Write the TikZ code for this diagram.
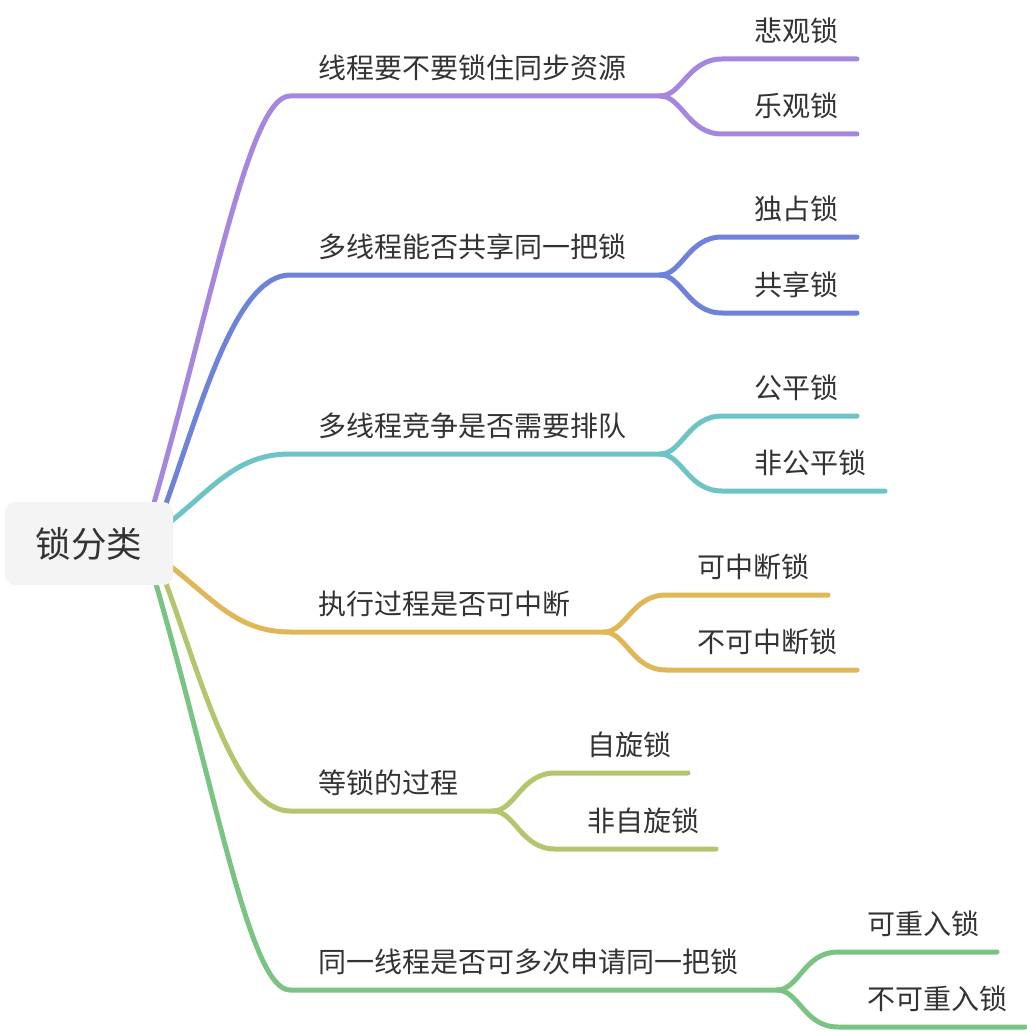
\documentclass[tikz,border=0pt]{standalone}
\usepackage{fontspec}
\setmainfont{Noto Sans CJK SC}
\usetikzlibrary{positioning, backgrounds}
\usepackage{xcolor}

\definecolor{rootfill}{HTML}{F4F4F4}
\definecolor{textgray}{HTML}{333333}
\definecolor{purplebr}{HTML}{A587E0}
\definecolor{bluebr}{HTML}{6F82DA}
\definecolor{tealbr}{HTML}{6EC4C4}
\definecolor{goldbr}{HTML}{E0B657}
\definecolor{olivebr}{HTML}{B3C66E}
\definecolor{greenbr}{HTML}{7AC483}

\begin{document}
\begin{tikzpicture}[
x=1pt, y=-1pt,
root/.style={fill=rootfill,
rounded corners=10pt,
minimum width=168pt,
minimum height=83pt,
inner sep=0pt,
text=textgray,
font=\fontsize{35.5}{42}\selectfont},
topic/.style={inner sep=0pt, text=textgray, font=\fontsize{28}{33}\selectfont},
branch/.style={line width=5pt, line cap=round} ]

\useasboundingbox (0,0) rectangle (1026,1032);

\node[root] (root) at (89,543.5) {锁分类};

% 线程要不要锁住同步资源
\coordinate (t1) at (290,96);
\coordinate (k1) at (660,96);
\coordinate (s1a) at (722,59);
\coordinate (e1a) at (857,59);
\coordinate (s1b) at (722,134);
\coordinate (e1b) at (857,134);
\node[topic, above right=15pt and 28pt of t1] (n1) {线程要不要锁住同步资源};
\node[topic, above right=15pt and 32pt of s1a] (n1a) {悲观锁};
\node[topic, above right=15pt and 32pt of s1b] (n1b) {乐观锁};

% 多线程能否共享同一把锁
\coordinate (t2) at (290,275);
\coordinate (k2) at (660,275);
\coordinate (s2a) at (722,237);
\coordinate (e2a) at (857,237);
\coordinate (s2b) at (722,313);
\coordinate (e2b) at (857,313);
\node[topic, above right=15pt and 28pt of t2] (n2) {多线程能否共享同一把锁};
\node[topic, above right=15pt and 32pt of s2a] (n2a) {独占锁};
\node[topic, above right=15pt and 32pt of s2b] (n2b) {共享锁};

% 多线程竞争是否需要排队
\coordinate (t3) at (290,454);
\coordinate (k3) at (660,454);
\coordinate (s3a) at (722,416);
\coordinate (e3a) at (857,416);
\coordinate (s3b) at (722,491);
\coordinate (e3b) at (885,491);
\node[topic, above right=15pt and 28pt of t3] (n3) {多线程竞争是否需要排队};
\node[topic, above right=15pt and 32pt of s3a] (n3a) {公平锁};
\node[topic, above right=15pt and 32pt of s3b] (n3b) {非公平锁};

% 执行过程是否可中断
\coordinate (t4) at (290,632);
\coordinate (k4) at (604,632);
\coordinate (s4a) at (666,595);
\coordinate (e4a) at (828,595);
\coordinate (s4b) at (666,670);
\coordinate (e4b) at (857,670);
\node[topic, above right=15pt and 28pt of t4] (n4) {执行过程是否可中断};
\node[topic, above right=15pt and 31pt of s4a] (n4a) {可中断锁};
\node[topic, above right=15pt and 31pt of s4b] (n4b) {不可中断锁};

% 等锁的过程
\coordinate (t5) at (290,811);
\coordinate (k5) at (493,811);
\coordinate (s5a) at (555,773);
\coordinate (e5a) at (688,773);
\coordinate (s5b) at (555,849);
\coordinate (e5b) at (716,849);
\node[topic, above right=15pt and 28pt of t5] (n5) {等锁的过程};
\node[topic, above right=15pt and 32pt of s5a] (n5a) {自旋锁};
\node[topic, above right=15pt and 32pt of s5b] (n5b) {非自旋锁};

% 同一线程是否可多次申请同一把锁
\coordinate (t6) at (290,990);
\coordinate (k6) at (777,990);
\coordinate (s6a) at (838,952);
\coordinate (e6a) at (997,952);
\coordinate (s6b) at (838,1027);
\coordinate (e6b) at (1025,1027);
\node[topic, above right=15pt and 28pt of t6] (n6) {同一线程是否可多次申请同一把锁};
\node[topic, above right=15pt and 29pt of s6a] (n6a) {可重入锁};
\node[topic, above right=15pt and 29pt of s6b] (n6b) {不可重入锁};

\begin{scope}[on background layer]
\draw[branch, purplebr] ([xshift=-20pt,yshift=-4pt]root.north east) .. controls (215,290) and (250,96) .. (t1) -- (k1);
\draw[branch, purplebr] (k1) .. controls +(22,0) and +(-34,0) .. (s1a) -- (e1a);
\draw[branch, purplebr] (k1) .. controls +(22,0) and +(-34,0) .. (s1b) -- (e1b);

\draw[branch, bluebr] ([xshift=-8pt,yshift=-4pt]root.north east) .. controls (200,410) and (235,275) .. (t2) -- (k2);
\draw[branch, bluebr] (k2) .. controls +(22,0) and +(-34,0) .. (s2a) -- (e2a);
\draw[branch, bluebr] (k2) .. controls +(22,0) and +(-34,0) .. (s2b) -- (e2b);

\draw[branch, tealbr] ([xshift=-4pt,yshift=-21pt]root.north east) .. controls (213,488) and (237,454) .. (t3) -- (k3);
\draw[branch, tealbr] (k3) .. controls +(22,0) and +(-34,0) .. (s3a) -- (e3a);
\draw[branch, tealbr] (k3) .. controls +(22,0) and +(-34,0) .. (s3b) -- (e3b);

\draw[branch, goldbr] ([xshift=-4pt,yshift=20pt]root.south east) .. controls (213,599) and (237,632) .. (t4) -- (k4);
\draw[branch, goldbr] (k4) .. controls +(22,0) and +(-34,0) .. (s4a) -- (e4a);
\draw[branch, goldbr] (k4) .. controls +(22,0) and +(-34,0) .. (s4b) -- (e4b);

\draw[branch, olivebr] ([xshift=-8pt,yshift=4pt]root.south east) .. controls (200,675) and (235,811) .. (t5) -- (k5);
\draw[branch, olivebr] (k5) .. controls +(22,0) and +(-34,0) .. (s5a) -- (e5a);
\draw[branch, olivebr] (k5) .. controls +(22,0) and +(-34,0) .. (s5b) -- (e5b);

\draw[branch, greenbr] ([xshift=-18pt,yshift=4pt]root.south east) .. controls (217,795) and (250,990) .. (t6) -- (k6);
\draw[branch, greenbr] (k6) .. controls +(22,0) and +(-34,0) .. (s6a) -- (e6a);
\draw[branch, greenbr] (k6) .. controls +(22,0) and +(-34,0) .. (s6b) -- (e6b);
\end{scope}

\end{tikzpicture}
\end{document}
